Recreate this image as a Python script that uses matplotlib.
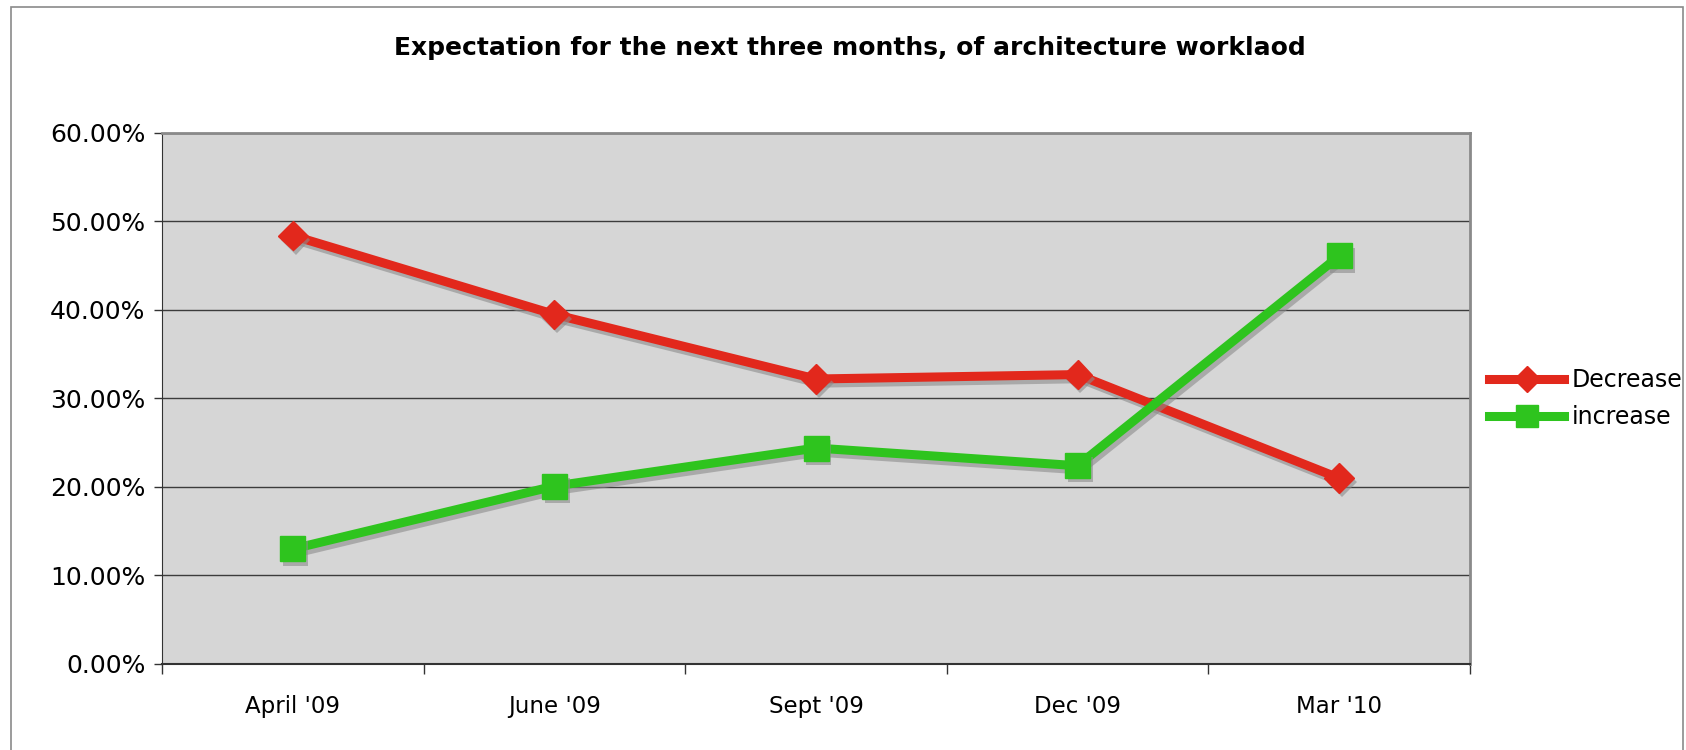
import matplotlib.pyplot as plt
import matplotlib.patheffects as pe
from matplotlib.lines import Line2D
from matplotlib.patches import Rectangle
from matplotlib.ticker import FuncFormatter
import numpy as np

quarters = ["April '09", "June '09", "Sept '09", "Dec '09", "Mar '10"]
decrease = [48.4, 39.5, 32.2, 32.7, 21.0]
increase = [13.0, 20.1, 24.4, 22.4, 46.1]
y_ticks = [0, 10, 20, 30, 40, 50, 60]

RED = "#e2281c"
GREEN = "#2ec41e"


def main():
    fig = plt.figure(figsize=(16.86, 7.5), dpi=100)
    ax = fig.add_axes([0.0961, 0.1147, 0.8719 - 0.0961, 0.8227 - 0.1147])

    # thin grey frame round the whole picture
    fig.patches.append(Rectangle((11 / 1686, -0.01), 1672 / 1686, 1 - 7 / 750 + 0.01,
                                 transform=fig.transFigure, fill=False,
                                 edgecolor="#8a8a8a", linewidth=1.2))

    ax.set_facecolor("#d6d6d6")
    xs = np.arange(len(quarters))
    line_shadow = [pe.SimpleLineShadow(offset=(2, -3), shadow_color="#8c8c8c", alpha=0.6),
                   pe.Normal()]
    mark_shadow = [pe.SimplePatchShadow(offset=(2, -3), shadow_rgbFace="#8c8c8c", alpha=0.6),
                   pe.Normal()]

    series = [
        (decrease, RED, "D", 15, "Decrease"),
        (increase, GREEN, "s", 18, "increase"),
    ]
    handles = []
    for values, color, marker, msize, label in series:
        ax.plot(xs, values, color=color, linewidth=6.5, path_effects=line_shadow, zorder=3)
        ax.plot(xs, values, linestyle="none", marker=marker, markersize=msize,
                color=color, path_effects=mark_shadow, zorder=4)
        handles.append(Line2D([], [], color=color, linewidth=6.5, marker=marker,
                              markersize=msize * 0.85, label=label))

    ax.set_xlim(-0.5, len(quarters) - 0.5)
    ax.set_ylim(0, 60)
    ax.set_yticks(y_ticks)
    ax.yaxis.set_major_formatter(FuncFormatter(lambda v, _: f"{v:.2f}%"))
    ax.yaxis.grid(True, color="#3c3c3c", linewidth=1.0)
    ax.set_axisbelow(True)

    ax.set_xticks(xs)
    ax.set_xticklabels(quarters)
    ax.set_xticks(np.arange(-0.5, len(quarters)), minor=True)
    ax.tick_params(axis="x", which="major", length=0, pad=22, labelsize=16.5)
    ax.tick_params(axis="x", which="minor", length=7, width=1, color="#333333")
    ax.tick_params(axis="y", length=6, width=1, color="#333333", pad=6, labelsize=18)

    ax.spines.left.set_color("#333333")
    ax.spines.bottom.set_color("#333333")
    ax.spines.bottom.set_linewidth(1.5)
    ax.spines.top.set_color("#8a8a8a")
    ax.spines.right.set_color("#8a8a8a")
    ax.spines.top.set_linewidth(2)
    ax.spines.right.set_linewidth(2)

    fig.text(0.504, 0.936, "Expectation for the next three months, of architecture worklaod",
             ha="center", va="center", fontsize=18, fontweight="bold")

    ax.legend(handles=handles, loc="center left", bbox_to_anchor=(1.0, 0.5),
              frameon=False, fontsize=17, handlelength=3.2, handletextpad=0.3,
              labelspacing=0.55, borderaxespad=0.4)

    fig.savefig("out.png", dpi=100)


if __name__ == "__main__":
    main()
